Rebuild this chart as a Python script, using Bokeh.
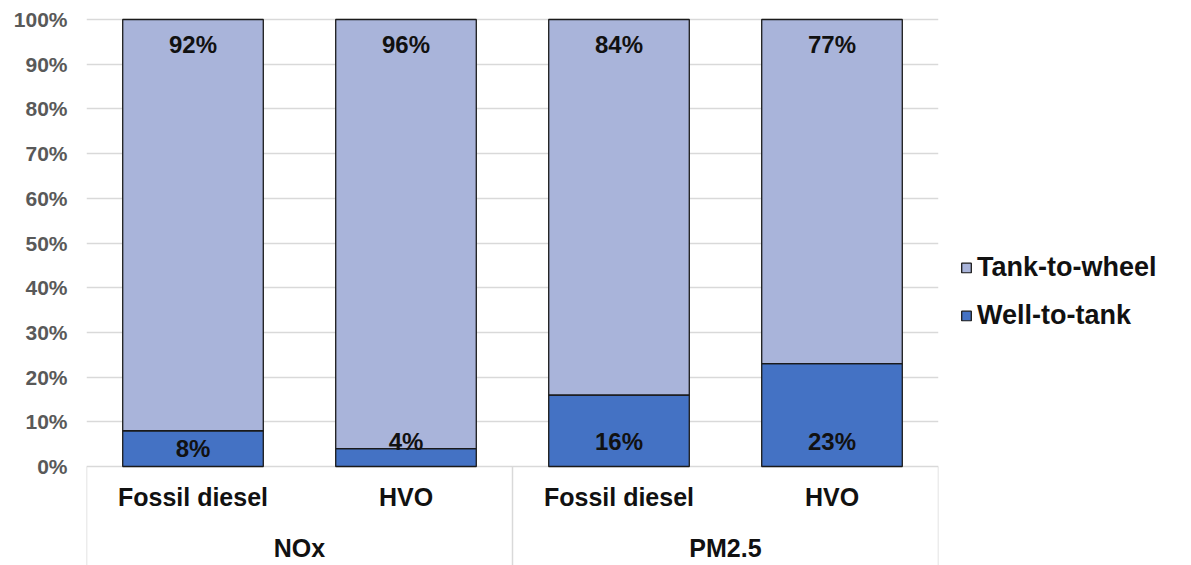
import numpy as np
from bokeh.plotting import figure
from bokeh.models import (FactorRange, Range1d, ColumnDataSource, FixedTicker,
                          NumeralTickFormatter, Legend, LegendItem)
from bokeh.core.properties import value
from bokeh.embed import file_html
from bokeh.resources import INLINE

# ---- data ----
groups = ["NOx", "PM2.5"]
fuels = ["Fossil diesel", "HVO"]
well_to_tank = [0.08, 0.04, 0.16, 0.23]
tank_to_wheel = [0.92, 0.96, 0.84, 0.77]
wtt_labels = ["8%", "4%", "16%", "23%"]
ttw_labels = ["92%", "96%", "84%", "77%"]
y_ticks = [0.0, 0.1, 0.2, 0.3, 0.4, 0.5, 0.6, 0.7, 0.8, 0.9, 1.0]

FONT = "Liberation Sans"
C_WTT = "#4472C4"
C_TTW = "#A9B4DA"
GRID = "#D9D9D9"

factors = [(g, f) for g in groups for f in fuels]

x_range = FactorRange(factors=factors, factor_padding=0, group_padding=0,
                      subgroup_padding=0, range_padding=0)

Y0 = -0.2215
p = figure(frame_width=852, frame_height=548, x_range=x_range,
           y_range=Range1d(Y0, 1.0045),
           output_backend="svg", toolbar_location=None,
           min_border_left=86, min_border_right=0,
           min_border_top=17, min_border_bottom=0)
p.outline_line_color = None
p.background_fill_color = "white"
p.border_fill_color = "white"

src = ColumnDataSource(dict(x=factors, wtt=well_to_tank, ttw=tank_to_wheel))
rs = p.vbar_stack(["wtt", "ttw"], x="x", width=0.66, source=src,
                  fill_color=[C_WTT, C_TTW], line_color="#1A1A1A",
                  line_width=1.3)

# axes
p.xaxis.visible = False
p.yaxis.ticker = FixedTicker(ticks=y_ticks)
p.yaxis.formatter = NumeralTickFormatter(format="0%")
p.yaxis.axis_line_color = None
p.yaxis.major_tick_line_color = None
p.yaxis.minor_tick_line_color = None
p.yaxis.major_tick_out = 0
p.yaxis.major_label_standoff = 19
p.yaxis.major_label_text_font = FONT
p.yaxis.major_label_text_font_style = "bold"
p.yaxis.major_label_text_font_size = "21px"
p.yaxis.major_label_text_color = "#595959"

p.xgrid.grid_line_color = None
p.ygrid.ticker = FixedTicker(ticks=y_ticks)
p.ygrid.grid_line_color = GRID
p.ygrid.grid_line_width = 1.5

# data labels
wtt = np.array(well_to_tank)
wtt_y = np.where(wtt < 0.06, 0.055, np.minimum(wtt / 2, 0.055))
ttw_y = [1 - 0.055] * len(factors)
lbl_src = ColumnDataSource(dict(x=factors, wy=list(wtt_y), ty=ttw_y,
                                wl=wtt_labels, tl=ttw_labels))
common = dict(text_font=value(FONT), text_font_style="bold",
              text_font_size="24px", text_align="center",
              text_baseline="middle", text_color="#111111")
p.text(x="x", y="wy", text="wl", source=lbl_src, **common)
p.text(x="x", y="ty", text="tl", source=lbl_src, **common)

# category table below
cat_src = ColumnDataSource(dict(x=factors, y=[-0.068] * len(factors),
                                t=[f for g, f in factors]))
p.text(x="x", y="y", text="t", source=cat_src,
       text_font=value(FONT), text_font_style="bold", text_font_size="25px",
       text_align="center", text_baseline="middle", text_color="#111111")
grp_src = ColumnDataSource(dict(x=groups, y=[-0.182] * len(groups), t=groups))
p.text(x="x", y="y", text="t", source=grp_src,
       text_font=value(FONT), text_font_style="bold", text_font_size="25px",
       text_align="center", text_baseline="middle", text_color="#111111")

sep_x = [(g, fuels[0], -0.5) for g in groups] + [(groups[-1], fuels[-1], 0.5)]
sep_src = ColumnDataSource(dict(x=sep_x, y0=[0.0] * len(sep_x),
                                y1=[Y0] * len(sep_x)))
p.segment(x0="x", y0="y0", x1="x", y1="y1", source=sep_src,
          line_color=GRID, line_width=1.5)

# legend
legend = Legend(items=[LegendItem(label="Tank-to-wheel", renderers=[rs[1]]),
                       LegendItem(label="Well-to-tank", renderers=[rs[0]])],
                location="center_left", padding=0, margin=22, spacing=17,
                glyph_width=12, glyph_height=12, label_standoff=5,
                border_line_color=None, background_fill_alpha=0,
                label_text_font=FONT, label_text_font_style="bold",
                label_text_font_size="27px", label_text_color="#111111")
p.add_layout(legend, "right")

open("out.html", "w").write(file_html(p, INLINE))
